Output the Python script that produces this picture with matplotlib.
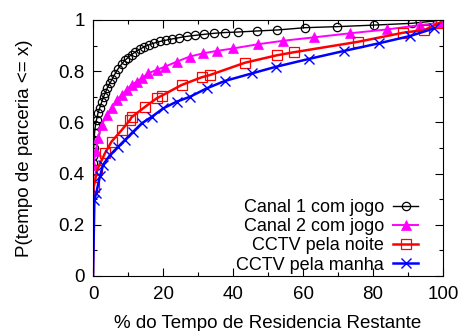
import matplotlib
matplotlib.use("Agg")
import matplotlib.pyplot as plt
from matplotlib.ticker import MultipleLocator, FormatStrFormatter

plt.rcParams['font.family'] = ['Liberation Sans', 'DejaVu Sans']

# Canal 1 com jogo (black circles)
c1_x = [0, 0.1, 0.2, 0.3, 0.45, 0.7, 1.0, 1.4, 1.9, 2.5, 3.0, 3.5, 4.1, 4.8, 5.5, 6.3,
        7.2, 8.2, 9.1, 10.0, 11.0, 12.1, 13.3, 14.6, 16.0, 17.5, 19.1, 20.8, 22.6, 24.6,
        26.8, 29.2, 31.8, 34.6, 37.6, 41.4, 46.8, 52.7, 60.6, 69.7, 80.3, 91.0, 98.2]
c1_y = [0.44, 0.47, 0.50, 0.53, 0.56, 0.59, 0.61, 0.635, 0.655, 0.68, 0.70, 0.715, 0.735,
        0.752, 0.77, 0.79, 0.81, 0.828, 0.842, 0.853, 0.865, 0.875, 0.885, 0.895, 0.903,
        0.91, 0.916, 0.921, 0.926, 0.931, 0.936, 0.94, 0.944, 0.948, 0.951, 0.953, 0.957,
        0.961, 0.97, 0.974, 0.98, 0.987, 0.997]

# Canal 2 com jogo (magenta triangles)
c2_x = [0.1, 0.8, 1.5, 2.5, 3.9, 5.3, 6.8, 8.2, 9.6, 11.0, 12.5, 13.9, 15.8, 18.2, 20.6,
        23.9, 27.6, 31.5, 35.3, 40.1, 47.0, 54.4, 63.0, 73.4, 83.9, 93.4, 99.3]
c2_y = [0.434, 0.49, 0.54, 0.59, 0.63, 0.655, 0.687, 0.707, 0.727, 0.746, 0.759, 0.772,
        0.792, 0.805, 0.818, 0.837, 0.857, 0.87, 0.879, 0.889, 0.905, 0.919, 0.932, 0.948,
        0.963, 0.98, 0.989]

# CCTV pela noite (red squares)
noite_x = [0.2, 1.2, 3.4, 5.3, 8.2, 10.6, 11.0, 14.9, 18.2, 19.6, 25.3, 31.0, 33.4,
           43.4, 52.5, 57.4, 75.8, 88.5, 94.7, 99.3]
noite_y = [0.347, 0.415, 0.479, 0.525, 0.57, 0.61, 0.62, 0.661, 0.694, 0.704, 0.746,
           0.776, 0.785, 0.833, 0.862, 0.874, 0.915, 0.95, 0.961, 0.99]

# CCTV pela manha (blue crosses)
manha_x = [0.4, 0.9, 2.0, 2.9, 4.9, 7.2, 9.1, 11.5, 13.9, 16.8, 20.1, 23.9, 27.7, 32.5,
           37.7, 45.3, 52.2, 61.7, 71.7, 81.7, 90.6, 97.4]
manha_y = [0.297, 0.323, 0.39, 0.435, 0.473, 0.505, 0.531, 0.564, 0.596, 0.622, 0.655,
           0.681, 0.70, 0.733, 0.762, 0.791, 0.817, 0.848, 0.879, 0.909, 0.9375, 0.967]

labels = ["Canal 1 com jogo", "Canal 2 com jogo", "CCTV pela noite", "CCTV pela manha"]

fig = plt.figure(figsize=(4.62, 3.31), dpi=100)
ax = fig.add_axes([0.2013, 0.1662, 0.7576, 0.7734])

def curve(xs, ys, **kw):
    # lines start at the origin, markers only on the data points
    lx = [0] + xs
    ly = [0] + ys
    return ax.plot(lx, ly, markevery=list(range(1, len(lx))), **kw)

curve(c1_x, c1_y, color='black', lw=1.0, marker='o', ms=6, mfc='none', mew=0.9,
      label=labels[0])
curve(c2_x, c2_y, color='#ff00ff', lw=1.4, marker='^', ms=7.5, mew=0.5,
      label=labels[1])
curve(noite_x, noite_y, color='#ff0000', lw=1.8, marker='s', ms=6.5, mfc='none', mew=0.9,
      label=labels[2])
curve(manha_x, manha_y, color='#0000ff', lw=1.8, marker='x', ms=6.5, mew=1.0,
      label=labels[3])

ax.set_xlim(0, 100)
ax.set_ylim(0, 1)
ax.xaxis.set_major_locator(MultipleLocator(20))
ax.xaxis.set_minor_locator(MultipleLocator(10))
ax.yaxis.set_major_locator(MultipleLocator(0.2))
ax.yaxis.set_minor_locator(MultipleLocator(0.1))
ax.yaxis.set_major_formatter(FormatStrFormatter('%g'))
ax.tick_params(which='both', direction='in', top=True, right=True, labelsize=13.5)
ax.tick_params(which='major', length=6, width=0.8)
ax.tick_params(which='minor', length=3, width=0.8)
ax.tick_params(axis='x', pad=7)
ax.tick_params(axis='y', pad=6)

ax.set_xlabel("% do Tempo de Residencia Restante", fontsize=13.5, labelpad=9)
ax.set_ylabel("P(tempo de parceria <= x)", fontsize=13.5, labelpad=18)

leg = ax.legend(loc='lower right', bbox_to_anchor=(0.94, -0.005), frameon=False,
                markerfirst=False, fontsize=13, handlelength=1.4, handletextpad=0.5,
                labelspacing=0.12, borderaxespad=0.0, borderpad=0.2)

fig.savefig("out.png", dpi=100)
